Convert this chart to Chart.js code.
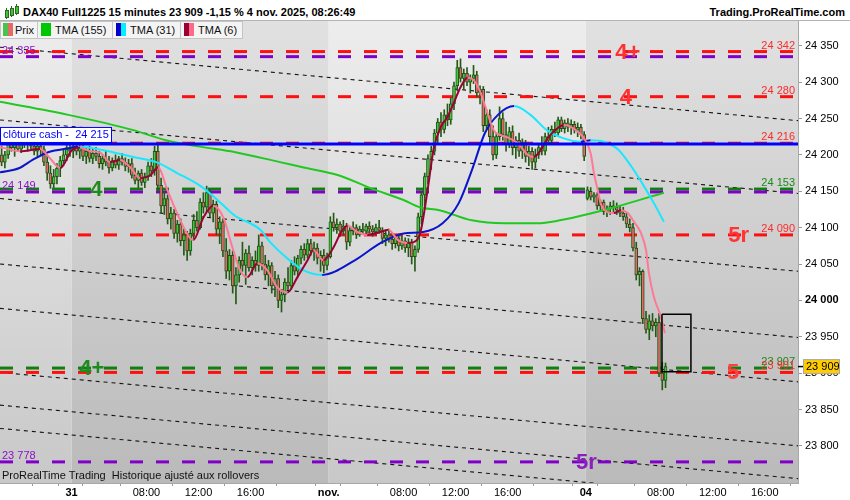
<!DOCTYPE html>
<html><head><meta charset="utf-8">
<script src="https://cdn.jsdelivr.net/npm/chart.js@4.4.1/dist/chart.umd.min.js"></script>
<style>
html,body{margin:0;padding:0;background:#fff;}
#wrap{position:relative;width:850px;height:500px;overflow:hidden;font-family:"Liberation Sans",Arial,sans-serif;}
#chart{position:absolute;left:0;top:0;}
#hdr{position:absolute;left:0;top:0;width:850px;height:21px;background:#fff;border-bottom:1px solid #b4b4b4;box-sizing:border-box;}
.ttl{position:absolute;top:6px;font-weight:bold;font-size:11px;color:#000;white-space:nowrap;line-height:12px;}
.lg{position:absolute;top:21px;height:18px;box-sizing:border-box;background:#f4f4f4;border:1px solid #c4c4c4;font-size:11px;line-height:16px;color:#111;white-space:nowrap;}
.lg span.t{position:absolute;top:0;}
.sw{position:absolute;top:1px;width:5px;height:13px;}
.ic{position:absolute;width:2px;background:#3ec23e;border:1px solid #2a6a1a;}
.icw{position:absolute;width:1px;background:#2a6a1a;}
</style></head>
<body>
<div id="wrap">
<canvas id="chart" width="850" height="500"></canvas>
<div id="hdr">
  <div class="icw" style="left:6px;top:8px;height:11px"></div><div class="ic" style="left:5px;top:10px;height:6px"></div>
  <div class="icw" style="left:11px;top:6px;height:11px"></div><div class="ic" style="left:10px;top:8px;height:6px"></div>
  <div class="icw" style="left:16px;top:4px;height:11px"></div><div class="ic" style="left:15px;top:6px;height:6px"></div>
  <div class="ttl" style="left:23px">DAX40 Full1225 15 minutes 23 909 -1,15 % 4 nov. 2025, 08:26:49</div>
  <div class="ttl" style="right:5px">Trading.ProRealTime.com</div>
</div>
<div class="lg" style="left:0;width:38px"><div class="sw" style="left:2px;background:#4cc24c"></div><div class="sw" style="left:7px;background:#e46a6a"></div><span class="t" style="left:14px">Prix</span></div>
<div class="lg" style="left:37px;width:76px"><div class="sw" style="left:3px;width:10px;background:#00c800"></div><span class="t" style="left:17px">TMA (155)</span></div>
<div class="lg" style="left:112px;width:69px"><div class="sw" style="left:3px;background:#0000c8"></div><div class="sw" style="left:8px;background:#00f0ff"></div><span class="t" style="left:17px">TMA (31)</span></div>
<div class="lg" style="left:180px;width:63px"><div class="sw" style="left:3px;background:#9a0034"></div><div class="sw" style="left:8px;background:#ff6a8a"></div><span class="t" style="left:17px">TMA (6)</span></div>
</div>
<script>
// ---------- DATA ----------
const opens = [24200,24190,24200,24215,24210,24220,24208,24225,24215,24220,
24212,24205,24212,24208,24190,24175,24160,24170,24182,24192,
24200,24208,24205,24212,24205,24210,24198,24205,24195,24202,
24198,24188,24195,24190,24182,24192,24186,24195,24190,24184,
24188,24172,24165,24175,24162,24170,24185,24178,24205,24158,
24130,24140,24112,24120,24092,24105,24082,24090,24068,24092,
24110,24100,24135,24128,24148,24120,24132,24098,24108,24068,
24040,24062,24020,24035,24055,24048,24065,24045,24055,24048,
24075,24050,24035,24048,24020,24030,24000,24008,24025,24020,
24048,24040,24058,24070,24062,24078,24068,24072,24058,24062,
24048,24060,24108,24100,24105,24095,24102,24080,24096,24100,
24090,24098,24095,24102,24098,24094,24100,24096,24085,24090,
24084,24078,24086,24075,24082,24072,24080,24060,24070,24115,
24145,24170,24195,24205,24230,24245,24235,24255,24248,24270,
24295,24320,24305,24312,24300,24305,24310,24285,24290,24240,
24255,24225,24200,24225,24250,24228,24215,24232,24210,24220,
24205,24215,24198,24205,24190,24200,24210,24205,24225,24220,
24235,24230,24248,24236,24244,24238,24242,24234,24238,24228,
24140,24150,24142,24145,24130,24135,24122,24126,24130,24128,
24124,24120,24115,24105,24100,24072,24035,24040,23975,23960,
23972,23965,23970,23900,23890];
const highs = [24212,24205,24222,24238,24225,24228,24232,24230,24226,24228,
24222,24218,24220,24212,24200,24185,24180,24188,24198,24208,
24215,24218,24218,24220,24215,24214,24210,24212,24208,24210,
24205,24200,24206,24198,24196,24200,24198,24202,24196,24194,
24195,24182,24178,24180,24175,24190,24195,24212,24216,24168,
24150,24145,24128,24125,24110,24112,24098,24095,24098,24118,
24122,24140,24148,24157,24152,24138,24136,24115,24112,24085,
24070,24068,24045,24060,24080,24070,24075,24060,24068,24090,
24080,24062,24055,24052,24040,24035,24015,24030,24045,24055,
24060,24062,24075,24078,24084,24084,24080,24078,24068,24070,
24065,24115,24120,24112,24108,24110,24106,24100,24108,24104,
24102,24106,24105,24108,24103,24105,24110,24100,24095,24098,
24092,24090,24090,24088,24086,24085,24084,24075,24120,24150,
24175,24200,24212,24235,24250,24258,24262,24270,24278,24300,
24330,24332,24318,24320,24310,24323,24315,24295,24294,24262,
24262,24240,24230,24266,24258,24245,24238,24240,24225,24230,
24222,24220,24212,24210,24208,24215,24225,24230,24238,24240,
24245,24252,24252,24248,24250,24248,24246,24244,24242,24232,
24156,24155,24148,24148,24138,24138,24130,24135,24137,24134,
24130,24128,24120,24112,24106,24080,24045,24042,23985,23980,
23982,23975,23982,23915,23914];
const lows = [24185,24182,24195,24205,24198,24205,24203,24210,24205,24208,
24200,24198,24200,24185,24165,24154,24155,24160,24170,24185,
24192,24198,24196,24200,24195,24192,24188,24190,24188,24192,
24182,24180,24185,24175,24178,24182,24180,24186,24178,24176,
24168,24160,24155,24158,24155,24165,24170,24172,24150,24120,
24118,24105,24098,24085,24080,24075,24062,24055,24062,24085,
24095,24098,24120,24122,24115,24108,24090,24078,24060,24030,
24028,24010,23995,24025,24040,24022,24040,24035,24040,24040,
24042,24028,24020,24010,24005,23990,23984,23998,24015,24015,
24035,24032,24050,24055,24058,24062,24055,24050,24040,24038,
24042,24058,24095,24092,24088,24090,24070,24075,24090,24085,
24088,24092,24090,24094,24088,24090,24092,24078,24075,24080,
24070,24072,24068,24070,24066,24060,24050,24040,24066,24105,
24130,24160,24180,24200,24215,24225,24230,24240,24242,24262,
24288,24300,24290,24295,24285,24298,24280,24270,24232,24235,
24215,24193,24195,24220,24220,24205,24210,24200,24195,24198,
24195,24190,24185,24180,24182,24195,24200,24200,24215,24215,
24225,24225,24232,24230,24232,24228,24230,24225,24222,24192,
24138,24138,24135,24125,24122,24118,24115,24118,24122,24118,
24115,24110,24100,24094,24068,24028,24020,23968,23955,23946,
23958,23950,23895,23877,23880];
const closes = [24190,24200,24215,24210,24220,24208,24225,24215,24220,24212,
24205,24212,24208,24190,24175,24160,24170,24182,24192,24200,
24208,24205,24212,24205,24210,24198,24205,24195,24202,24198,
24188,24195,24190,24182,24192,24186,24195,24190,24184,24188,
24172,24165,24175,24162,24170,24185,24178,24205,24158,24130,
24140,24112,24120,24092,24105,24082,24090,24068,24092,24110,
24100,24135,24128,24148,24120,24132,24098,24108,24068,24040,
24062,24020,24035,24055,24048,24065,24045,24055,24048,24075,
24050,24035,24048,24020,24030,24000,24008,24025,24020,24048,
24040,24058,24070,24062,24078,24068,24072,24058,24062,24048,
24060,24108,24100,24105,24095,24102,24080,24096,24100,24090,
24098,24095,24102,24098,24094,24100,24096,24085,24090,24084,
24078,24086,24075,24082,24072,24080,24060,24070,24115,24145,
24170,24195,24205,24230,24245,24235,24255,24248,24270,24295,
24320,24305,24312,24300,24305,24310,24285,24290,24240,24255,
24225,24200,24225,24250,24228,24215,24232,24210,24220,24205,
24215,24198,24205,24190,24200,24210,24205,24225,24220,24235,
24230,24248,24236,24244,24238,24242,24234,24238,24228,24198,
24152,24142,24145,24130,24135,24122,24126,24130,24128,24124,
24120,24115,24105,24100,24072,24035,24040,23975,23960,23972,
23965,23970,23900,23890,23909];

// moving averages (bar position, value)
const tma155Bars = [0,21,41,51,62,72,86,93,104,114,124,129,135,145,155,165,172,182,188,204];
const tma155Vals = [24273,24255,24234,24220,24211,24204,24190,24183,24172,24154,24138,24128,24124,24110,24106,24106,24110,24120,24127,24148];
const tma31Bars = [0,6,10,15,21,24,31,41,48,54,62,68,72,80,83,89,93,99,109,117,124,130,136,141,145,149,153,158,163,168,173,178.5,181.5,185.5,190,194,198,201,204];
const tma31Vals = [24176,24182,24193,24204,24209,24211,24207,24197,24190,24176,24156,24133,24117,24097,24080,24055,24042,24035,24055,24079,24092,24094,24106,24134,24179,24230,24255,24267,24255,24234,24223,24218,24220,24218,24207,24184,24156,24133,24108];
const tma6Bars = [0,6.2,12.3,15.4,18.5,22.2,24.6,27.7,30.8,33.8,36.9,40,43.1,46.2,48.6,51.4,55.4,58.5,59.4,62.5,65.5,68.6,71.4,73.8,76,79.1,82.2,85.2,88.3,91.4,94.5,96.3,99.4,102.5,104.6,106.8,109.8,112.9,116,119.4,122.2,125.2,127.1,129.2,131.4,133.2,135.4,137.5,139.4,141.5,143.7,145.5,147.7,149.8,151.7,153.8,156,159.1,162.2,164,166.2,168.3,171.4,173.2,176.3,179.4,181.5,182.5,183.7,184.6,186.8,188.6,190.8,192.9,194.8,196.9,198.5,199.4,200.9,203.1,204.3];
const tma6Vals = [24211,24205,24208,24195,24182,24207,24210,24205,24203,24190,24193,24183,24168,24172,24183,24152,24110,24085,24083,24114,24130,24114,24073,24041,24032,24051,24041,24018,24011,24032,24055,24069,24055,24073,24092,24103,24094,24090,24093,24097,24083,24079,24080,24094,24152,24207,24238,24252,24271,24293,24306,24303,24285,24257,24234,24227,24224,24216,24200,24197,24207,24223,24237,24241,24236,24223,24202,24175,24151,24133,24121,24120,24124,24120,24108,24093,24069,24037,24005,23977,23955];

// horizontal levels
const redLevels = [24342, 24280, 24216, 24090, 23901];
const purpleLevels = [24335, 24149, 23778];
const greenLevels = [24153, 23907];
const cashClose = 24215;

// sloped channel lines (price at left edge, price at right edge)
const channelStart = [24348, 24248, 24140, 24050, 23989, 23901, 23856, 23824];
const channelEnd   = [24247, 24147, 24040, 23949, 23888, 23800, 23755, 23723];

// level marks
const markTexts  = ['4+', '4', '4', '5r', '4+', '5', '5r'];
const markPrices = [24342, 24280, 24153, 24090, 23907, 23901, 23778];

// box drawn near the last bars (bar range, price range)
const boxBars = [203.4, 212.3];
const boxPrices = [23981, 23902];

// axes
const dayStartBars = [22, 101, 180];
const xTickBars = [14, 22, 29, 45, 61, 77, 93, 101, 108, 124, 140, 156, 172, 180, 187, 203, 219, 235];
const xTickLabels = ['', '31', '', '08:00', '12:00', '16:00', '', 'nov.', '', '08:00', '12:00', '16:00', '', '04', '', '08:00', '12:00', '16:00'];
const dayLabels = ['31', 'nov.', '04'];
const yTickValues = [23800, 23850, 23900, 23950, 24000, 24050, 24100, 24150, 24200, 24250, 24300, 24350];

// ---------- STYLE / LAYOUT ----------
const X_MAX = 245.2;
const FAM = '"Liberation Sans", Arial, sans-serif';
const C_RED = '#ff1010', C_PURPLE = '#8000c8', C_GREEN = '#0f800f';
const markStyle = [
  {bar:192.9, color:'#ff3030'}, {bar:192.3, color:'#ff3030'}, {bar:29.6, color:'#1f8a1f'},
  {bar:227.0, color:'#ff3535'}, {bar:28.2, color:'#1f8a1f'}, {bar:225.3, color:'#ff4040'}, {bar:180.2, color:'#8a1fc0'}
];
const fmt = v => String(Math.round(v)).replace(/\B(?=(\d{3})+(?!\d))/g, ' ');

const N = closes.length;
const bodyData = closes.map((c, i) => ({x: i + 0.5, y: [opens[i], c]}));
const wickData = closes.map((c, i) => ({x: i + 0.5, y: [lows[i], highs[i]]}));
const pts = (bars, vals) => bars.map((b, i) => ({x: b, y: vals[i]}));
const hline = (v, color, order) => ({type:'line', data:[{x:0,y:v},{x:X_MAX,y:v}], borderColor:color, borderWidth:3, borderDash:[13,13], pointRadius:0, order});

const datasets = [];
channelStart.forEach((s, k) => datasets.push({type:'line', data:[{x:0,y:s},{x:X_MAX,y:channelEnd[k]}], borderColor:'#141414', borderWidth:1.1, borderDash:[4,4], pointRadius:0, order:20}));
redLevels.forEach(v => datasets.push(hline(v, C_RED, 15)));
purpleLevels.forEach(v => datasets.push(hline(v, C_PURPLE, 15)));
greenLevels.forEach(v => datasets.push(hline(v, C_GREEN, 15)));
datasets.push({type:'bar', data:wickData, backgroundColor:'#245a16', borderWidth:0, barThickness:1, grouped:false, order:8});
datasets.push({type:'bar', data:bodyData, grouped:false, barThickness:3, borderWidth:1, borderSkipped:false, borderColor:'#1f5214',
  backgroundColor: c => (closes[c.dataIndex] >= opens[c.dataIndex] ? '#44c844' : '#e46a6a'), order:7});
datasets.push({type:'line', data:pts(tma155Bars, tma155Vals), borderColor:'#22c822', borderWidth:2, pointRadius:0, cubicInterpolationMode:'monotone', order:5});
datasets.push({type:'line', data:pts(tma31Bars, tma31Vals), borderWidth:2, pointRadius:0, cubicInterpolationMode:'monotone', borderColor:'#0000c8',
  segment:{borderColor: c => c.p1.parsed.y >= c.p0.parsed.y ? '#0a14c8' : '#18e8ff'}, order:4});
datasets.push({type:'line', data:pts(tma6Bars, tma6Vals), borderWidth:2, pointRadius:0, cubicInterpolationMode:'monotone', borderColor:'#ff7090',
  segment:{borderColor: c => c.p1.parsed.y >= c.p0.parsed.y ? '#9a0034' : '#ff7896'}, order:3});
datasets.push({type:'line', data:[{x:0,y:cashClose},{x:X_MAX,y:cashClose}], borderColor:'#0000ff', borderWidth:3, pointRadius:0, order:2});
datasets.push({type:'line', data:[{x:boxBars[0],y:boxPrices[0]},{x:boxBars[1],y:boxPrices[0]},{x:boxBars[1],y:boxPrices[1]},{x:boxBars[0],y:boxPrices[1]},{x:boxBars[0],y:boxPrices[0]}],
  borderColor:'#000', borderWidth:1.5, pointRadius:0, order:1});

const bgPlugin = {id:'bg', beforeDatasetsDraw(chart){
  const {ctx, chartArea:a, scales:{x}} = chart;
  const b = [x.min, ...dayStartBars, x.max];
  ctx.save();
  for (let k = 0; k < b.length - 1; k++) {
    const x0 = x.getPixelForValue(b[k]), x1 = x.getPixelForValue(b[k+1]);
    const light = k % 2 === 0;
    const g = ctx.createLinearGradient(0, a.top, 0, a.bottom);
    g.addColorStop(0, light ? '#ededed' : '#e1e1e1');
    g.addColorStop(1, light ? '#c8c8c8' : '#bababa');
    ctx.fillStyle = g;
    ctx.fillRect(x0, a.top, x1 - x0, a.bottom - a.top);
  }
  ctx.restore();
}};

const annot = {id:'annot', afterDatasetsDraw(chart){
  const {ctx, chartArea:a, scales:{x, y}} = chart;
  ctx.save();
  ctx.beginPath(); ctx.rect(a.left, a.top, a.right - a.left, a.bottom - a.top); ctx.clip();
  ctx.font = '11px ' + FAM; ctx.textBaseline = 'alphabetic';
  ctx.textAlign = 'right';
  greenLevels.forEach(v => { ctx.fillStyle = '#1a8a1a'; ctx.fillText(fmt(v), a.right - 3, y.getPixelForValue(v) - 3); });
  redLevels.forEach(v => { ctx.fillStyle = '#ff2a2a'; ctx.fillText(fmt(v), a.right - 3, y.getPixelForValue(v) - 3); });
  ctx.textAlign = 'left';
  purpleLevels.forEach(v => { ctx.fillStyle = '#8a10c8'; ctx.fillText(fmt(v), a.left + 2, y.getPixelForValue(v) - 3); });
  // level marks
  ctx.font = 'bold 22px ' + FAM; ctx.textAlign = 'center'; ctx.textBaseline = 'middle';
  markTexts.forEach((t, k) => { ctx.fillStyle = markStyle[k].color; ctx.fillText(t, x.getPixelForValue(markStyle[k].bar), y.getPixelForValue(markPrices[k]) + 1); });
  // cash close box
  const yb = y.getPixelForValue(cashClose);
  ctx.font = '11px ' + FAM; ctx.textAlign = 'left';
  ctx.fillStyle = '#fff'; ctx.fillRect(a.left + 0.5, yb - 16.5, 111, 15);
  ctx.strokeStyle = '#0000ff'; ctx.lineWidth = 1; ctx.strokeRect(a.left + 0.5, yb - 16.5, 111, 15);
  ctx.fillStyle = '#0000ff'; ctx.fillText('clôture cash -  ' + fmt(cashClose), a.left + 3, yb - 8.5);
  // footer
  ctx.fillStyle = '#111'; ctx.fillText('ProRealTime Trading  Historique ajusté aux rollovers', a.left + 2, a.bottom - 7);
  ctx.restore();
}, afterDraw(chart){
  const {ctx, chartArea:a, scales:{y}} = chart;
  const yl = y.getPixelForValue(closes[N - 1]);
  ctx.save();
  ctx.strokeStyle = '#000'; ctx.lineWidth = 1.5;
  ctx.beginPath(); ctx.moveTo(a.right, yl); ctx.lineTo(a.right + 5, yl); ctx.stroke();
  ctx.fillStyle = '#ffcc00'; ctx.fillRect(a.right + 5.5, yl - 7, 36, 14);
  ctx.strokeStyle = '#a8a8a8'; ctx.lineWidth = 1; ctx.strokeRect(a.right + 5.5, yl - 7, 36, 14);
  ctx.fillStyle = '#000'; ctx.font = '11px ' + FAM; ctx.textAlign = 'left'; ctx.textBaseline = 'middle';
  ctx.fillText(fmt(closes[N - 1]), a.right + 8, yl + 0.5);
  ctx.restore();
}};

new Chart(document.getElementById('chart'), {
  type: 'bar',
  data: {datasets},
  options: {
    responsive: false, animation: false, devicePixelRatio: 1,
    layout: {padding: {top: 21, left: 0, right: 0, bottom: 0}},
    plugins: {legend: {display: false}, tooltip: {enabled: false}},
    scales: {
      x: {type: 'linear', min: 0, max: X_MAX, offset: false,
        grid: {drawOnChartArea: false, drawTicks: true, tickLength: 3, color: '#9a9a9a'},
        border: {display: true, color: '#a8a8a8'},
        ticks: {autoSkip: false, maxRotation: 0, padding: 0, color: '#000',
          font: c => ({family: FAM, size: 11, weight: (c.tick && dayLabels.includes(c.tick.label)) ? 'bold' : 'normal'}),
          callback: (v, i) => xTickLabels[i]},
        afterBuildTicks: s => { s.ticks = xTickBars.map(v => ({value: v})); },
        afterFit: s => { s.height = 17; }
      },
      y: {type: 'linear', position: 'right', min: 23749, max: 24384,
        grid: {drawOnChartArea: false, tickLength: 4, color: '#9a9a9a'},
        border: {display: true, color: '#a8a8a8'},
        ticks: {padding: 3, color: '#000',
          font: c => ({family: FAM, size: 11, weight: (c.tick && c.tick.value === 24000) ? 'bold' : 'normal'}),
          callback: v => fmt(v)},
        afterBuildTicks: s => { s.ticks = yTickValues.map(v => ({value: v})); },
        afterFit: s => { s.width = 52; }
      }
    }
  },
  plugins: [bgPlugin, annot]
});
</script>
</body></html>
